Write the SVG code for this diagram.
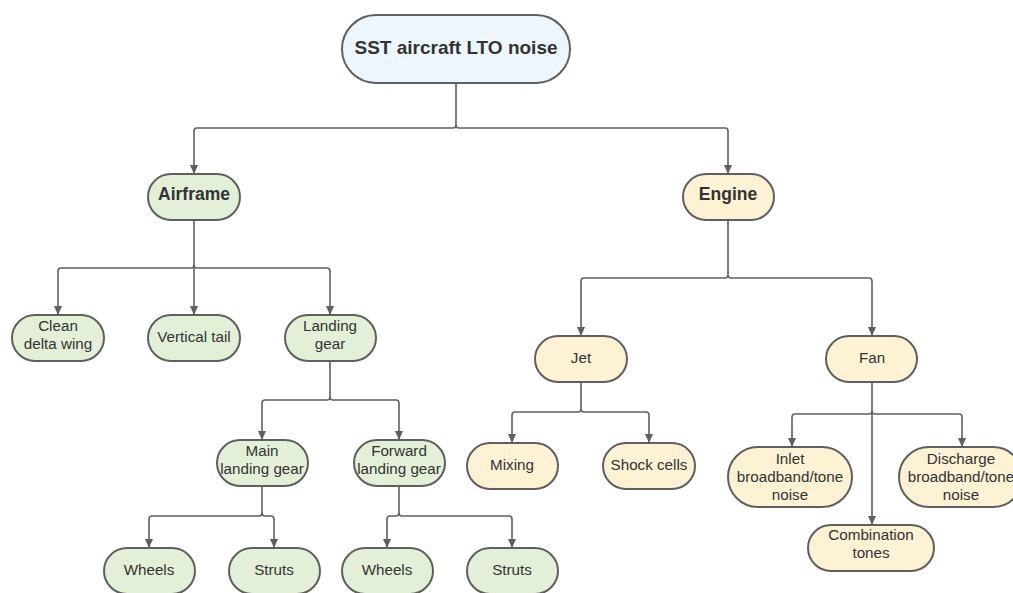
<svg xmlns="http://www.w3.org/2000/svg" width="1013" height="593" viewBox="0 0 1013 593">
<defs>
<style>
.n{stroke:#5f5f5f;stroke-width:2}
.b{fill:#eef6fd}.g{fill:#e3f0d7}.y{fill:#fdf2d3}
text{font-family:"Liberation Sans",Arial,sans-serif;fill:#333;text-anchor:middle}
.t{font-size:15.2px}
.h{font-size:17.5px;font-weight:bold}
.r{font-size:19px;font-weight:bold}
.c{fill:none;stroke:#5f5f5f;stroke-width:1.6}
</style>
<marker id="a" markerWidth="10" markerHeight="10" refX="8" refY="5" orient="auto" markerUnits="userSpaceOnUse">
<path d="M0,1 L9,5 L0,9 z" fill="#5f5f5f"/>
</marker>
</defs>
<rect width="1013" height="593" fill="#fff"/>
<g id="connectors">
<path class="c" d="M456,83 V125 Q456,128 453,128 H197 Q194,128 194,131 V173" marker-end="url(#a)"/>
<path class="c" d="M456,125 Q456,128 459,128 H725 Q728,128 728,131 V173" marker-end="url(#a)"/>
<path class="c" d="M194,220 V265 Q194,268 191,268 H61 Q58,268 58,271 V314" marker-end="url(#a)"/>
<path class="c" d="M194,265 V314" marker-end="url(#a)"/>
<path class="c" d="M194,265 Q194,268 197,268 H327 Q330,268 330,271 V314" marker-end="url(#a)"/>
<path class="c" d="M330,361 V397 Q330,400 327,400 H265 Q262,400 262,403 V439" marker-end="url(#a)"/>
<path class="c" d="M330,397 Q330,400 333,400 H396 Q399,400 399,403 V439" marker-end="url(#a)"/>
<path class="c" d="M262,486 V513 Q262,516 259,516 H152 Q149,516 149,519 V547" marker-end="url(#a)"/>
<path class="c" d="M262,513 Q262,516 265,516 H271 Q274,516 274,519 V547" marker-end="url(#a)"/>
<path class="c" d="M399,486 V513 Q399,516 396,516 H390 Q387,516 387,519 V547" marker-end="url(#a)"/>
<path class="c" d="M399,513 Q399,516 402,516 H509 Q512,516 512,519 V547" marker-end="url(#a)"/>
<path class="c" d="M728,220 V275 Q728,278 725,278 H584 Q581,278 581,281 V335" marker-end="url(#a)"/>
<path class="c" d="M728,275 Q728,278 731,278 H869 Q872,278 872,281 V335" marker-end="url(#a)"/>
<path class="c" d="M581,382 V409 Q581,412 578,412 H515 Q512,412 512,415 V442" marker-end="url(#a)"/>
<path class="c" d="M581,409 Q581,412 584,412 H646 Q649,412 649,415 V442" marker-end="url(#a)"/>
<path class="c" d="M872,382 V411 Q872,414 869,414 H795 Q792,414 792,417 V446" marker-end="url(#a)"/>
<path class="c" d="M872,411 Q872,414 875,414 H959 Q962,414 962,417 V446" marker-end="url(#a)"/>
<path class="c" d="M872,411 V524" marker-end="url(#a)"/>
</g>
<g id="root"><rect class="n b" x="342" y="15" width="228" height="68" rx="34"/><text class="r" x="456" y="54">SST aircraft LTO noise</text></g>
<g id="airframe"><rect class="n g" x="148" y="174" width="92" height="46" rx="23"/><text class="h" x="194" y="200">Airframe</text></g>
<g id="engine"><rect class="n y" x="683" y="174" width="91" height="46" rx="23"/><text class="h" x="728" y="200">Engine</text></g>
<g id="clean-delta-wing"><rect class="n g" x="12" y="315" width="92" height="46" rx="23"/><text class="t" x="58" y="331">Clean</text><text class="t" x="58" y="349">delta wing</text></g>
<g id="vertical-tail"><rect class="n g" x="148" y="315" width="92" height="46" rx="23"/><text class="t" x="194" y="342">Vertical tail</text></g>
<g id="landing-gear"><rect class="n g" x="285" y="315" width="91" height="46" rx="23"/><text class="t" x="330" y="331">Landing</text><text class="t" x="330" y="349">gear</text></g>
<g id="main-landing-gear"><rect class="n g" x="217" y="440" width="91" height="46" rx="23"/><text class="t" x="262" y="456">Main</text><text class="t" x="262" y="474">landing gear</text></g>
<g id="forward-landing-gear"><rect class="n g" x="354" y="440" width="91" height="46" rx="23"/><text class="t" x="399" y="456">Forward</text><text class="t" x="399" y="474">landing gear</text></g>
<g id="main-wheels"><rect class="n g" x="104" y="548" width="91" height="46" rx="23"/><text class="t" x="149" y="575">Wheels</text></g>
<g id="main-struts"><rect class="n g" x="229" y="548" width="91" height="46" rx="23"/><text class="t" x="274" y="575">Struts</text></g>
<g id="fwd-wheels"><rect class="n g" x="342" y="548" width="91" height="46" rx="23"/><text class="t" x="387" y="575">Wheels</text></g>
<g id="fwd-struts"><rect class="n g" x="467" y="548" width="91" height="46" rx="23"/><text class="t" x="512" y="575">Struts</text></g>
<g id="jet"><rect class="n y" x="535" y="336" width="92" height="46" rx="23"/><text class="t" x="581" y="363">Jet</text></g>
<g id="fan"><rect class="n y" x="826" y="336" width="91" height="46" rx="23"/><text class="t" x="872" y="363">Fan</text></g>
<g id="mixing"><rect class="n y" x="467" y="443" width="91" height="46" rx="23"/><text class="t" x="512" y="470">Mixing</text></g>
<g id="shock-cells"><rect class="n y" x="603" y="443" width="92" height="46" rx="23"/><text class="t" x="649" y="470">Shock cells</text></g>
<g id="inlet"><rect class="n y" x="728" y="447" width="124" height="60" rx="30"/><text class="t" x="790" y="464">Inlet</text><text class="t" x="790" y="482">broadband/tone</text><text class="t" x="790" y="500">noise</text></g>
<g id="discharge"><rect class="n y" x="899" y="447" width="124" height="60" rx="30"/><text class="t" x="961" y="464">Discharge</text><text class="t" x="961" y="482">broadband/tone</text><text class="t" x="961" y="500">noise</text></g>
<g id="combination-tones"><rect class="n y" x="808" y="525" width="126" height="46" rx="23"/><text class="t" x="871" y="540">Combination</text><text class="t" x="871" y="558">tones</text></g>
</svg>
